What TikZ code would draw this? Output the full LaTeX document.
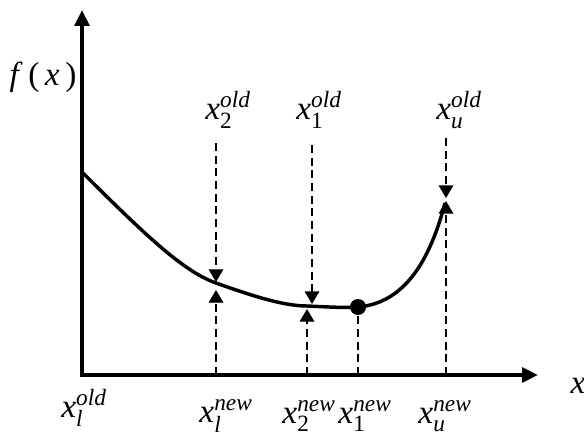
\documentclass[tikz,border=0pt]{standalone}
\usepackage{amsmath}
\usepackage{fontspec}
\setmainfont{Liberation Serif}
\usetikzlibrary{positioning,arrows.meta}

% variable with bracket sub- and superscript, set in text italic
\newcommand{\bvar}[2]{$\textit{x}_{\text{#1}}^{\textit{#2}}$}

\begin{document}
\begin{tikzpicture}[
      x=0.75pt, y=-0.75pt,
      axis/.style={line width=3.2pt, -{Triangle[length=12pt,width=11pt]}},
      fcurve/.style={line width=2.6pt},
      guide/.style={dash pattern=on 6pt off 3.5pt, line width=1pt},
      hit/.style={guide, -{Triangle[length=9.5pt,width=11pt]}},
      lbl/.style={font=\fontsize{25}{28}\selectfont, inner sep=0pt},
    ]
    \useasboundingbox (0,0) rectangle (584,442);

    % axes
    \coordinate (origin) at (82,375);
    \coordinate (ytop) at (82,10);
    \coordinate (xend) at (538,375);
    \draw[axis] (origin) -- (ytop);
    \draw[axis] ([xshift=-1.6pt]origin) -- (xend);
    \node[lbl] (fx) at (43,77) {\textit{f}\,(\,\textit{x}\,)};
    \node[lbl] (xvar) at (578,386) {\textit{x}};

    % points on the curve
    \coordinate (cl) at (82,172);
    \coordinate (c2) at (216,283);
    \coordinate (c1) at (307,306);
    \coordinate (cmin) at (358,307);
    \coordinate (cu) at (445,203);

    \draw[fcurve] (cl) .. controls (150,240) and (185,272) .. (c2)
      .. controls (255,297) and (285,306) .. (c1)
      .. controls (330,307) and (345,308) .. (cmin)
      .. controls (405,303) and (430,260) .. (cu);
    \fill (cmin) circle (6pt);

    % old bracket
    \node[lbl] (old2) at (228,110) {\bvar{2}{old}};
    \node[lbl] (old1) at (319,110) {\bvar{1}{old}};
    \node[lbl] (oldu) at (459,110) {\bvar{\textit{u}}{old}};
    \node[lbl] (oldl) at (84,408) {\bvar{\textit{l}}{old}};

    \coordinate (t2) at (216,143);
    \coordinate (t1) at (312,145);
    \coordinate (tu) at (446,138);
    \draw[hit] (t2) -- (216,282);
    \draw[hit] (t1) -- (312,304);
    \draw[hit] (tu) -- (446,198);

    % new bracket
    \node[lbl] (newl) at (226,416) {\bvar{\textit{l}}{new}};
    \node[lbl] (new2) at (309,416) {\bvar{2}{new}};
    \node[lbl] (new1) at (365,416) {\bvar{1}{new}};
    \node[lbl] (newu) at (445,416) {\bvar{\textit{u}}{new}};

    \coordinate (b2) at (216,375);
    \coordinate (b1) at (307,375);
    \coordinate (bmin) at (358,375);
    \coordinate (bu) at (446,375);
    \draw[hit] (b2) -- (216,290);
    \draw[hit] (b1) -- (307,309);
    \draw[guide] (bmin) -- (cmin);
    \draw[hit] (bu) -- (446,201);
  \end{tikzpicture}
\end{document}
